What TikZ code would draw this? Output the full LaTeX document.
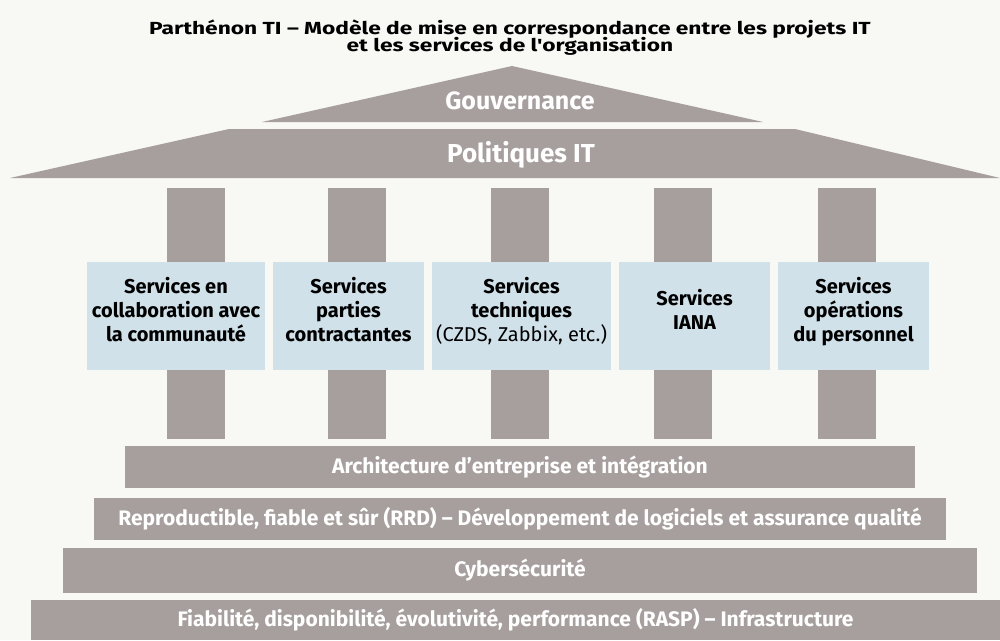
\documentclass[tikz,border=0pt]{standalone}
\usepackage{fontspec}
\setmainfont{Fira Sans}
\newfontfamily\titlefont[FakeStretch=1.3]{Fira Sans}
\usetikzlibrary{positioning}
\definecolor{stone}{HTML}{A69F9D}
\definecolor{paleblue}{HTML}{D0E1EA}
\definecolor{cream}{HTML}{F8F8F4}

\tikzset{
  column/.style={fill=stone, draw=none},
  layer/.style={fill=stone, inner sep=0pt, text=white,
    font=\bfseries\fontsize{21}{24}\selectfont},
  service/.style={fill=paleblue, inner sep=0pt, align=center, text depth=13pt,
    minimum height=108pt, font=\bfseries\fontsize{20}{24}\selectfont},
  roof/.style={text=white, font=\bfseries\fontsize{25}{28}\selectfont},
}

\begin{document}
\begin{tikzpicture}[x=1pt, y=-1pt]
% page
\fill[cream] (0,0) rectangle (1000,640);
\useasboundingbox (0,0) rectangle (1000,640);

\node [align=center, font={\titlefont\bfseries\fontsize{17.5}{17.5}\selectfont\lineskiplimit=-10pt}] (title) at (510,37.5)
  {Parthénon TI – Modèle de mise en correspondance entre les projets IT\\et les services de l'organisation};

% roof
\coordinate (apex) at (512,66);
\draw[column] (apex) -- (763,122) -- (262,122) -- cycle;
\draw[column] (229,129) -- (795,129) -- (1000,178) -- (10,178) -- cycle;
\node [roof] (gov) at (520,101) {Gouvernance};
\node [roof, font=\bfseries\fontsize{26}{30}\selectfont] (pol) at (521,155) {Politiques IT};

% columns
\foreach \x in {196,357,520,683,847}
  \draw[column] (\x-29,188) rectangle (\x+29,439);

% services
\node [service, minimum width=178pt] (collab) at (176,316)
  {Services en\\collaboration avec\\la communauté};
\node [service, minimum width=151pt] (parties) at (348.5,316)
  {Services\\parties\\contractantes};
\node [service, minimum width=179pt] (tech) at (521.5,316)
  {Services\\techniques\\\mdseries(CZDS, Zabbix, etc.)};
\node [service, minimum width=151pt] (iana) at (694.5,316)
  {Services\\IANA};
\node [service, minimum width=151pt] (people) at (853.5,316)
  {Services\\opérations\\du personnel};

% foundation
\node [layer, minimum width=790pt, minimum height=42pt] (archi) at (520,467)
  {Architecture d’entreprise et intégration};
\node [layer, minimum width=852pt, minimum height=42pt] (rrd) at (520,519)
  {Reproductible, fiable et sûr (RRD) – Développement de logiciels et assurance qualité};
\node [layer, minimum width=914pt, minimum height=45pt] (cyber) at (520,570.5)
  {Cybersécurité};
\node [layer, minimum width=969pt, minimum height=40pt] (rasp) at (515.5,620)
  {Fiabilité, disponibilité, évolutivité, performance (RASP) – Infrastructure};
\end{tikzpicture}
\end{document}
